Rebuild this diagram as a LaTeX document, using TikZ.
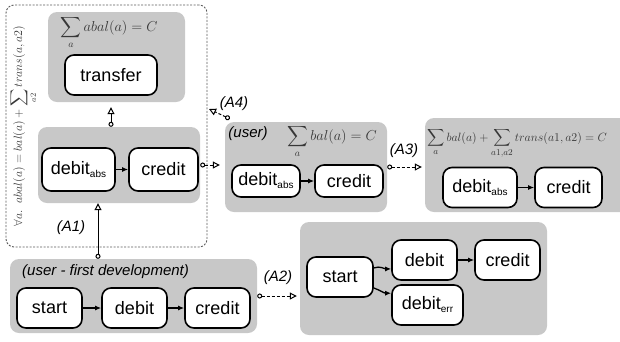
\documentclass[tikz,border=0pt]{standalone}
\usepackage{amsmath}
\usepackage{exscale}
\usepackage{fontspec}
\setmainfont{Liberation Sans}
\usetikzlibrary{arrows.meta,calc}
\definecolor{grpc}{RGB}{200,200,200}
\definecolor{mathc}{RGB}{55,55,55}
\definecolor{dashc}{RGB}{90,90,90}
\newcommand{\subsc}[1]{\raisebox{-3pt}{\fontsize{10}{10}\selectfont #1}}
\tikzset{
  grpbox/.style={fill=grpc, rounded corners=9pt, inner sep=0pt, draw=none},
  state/.style={draw=black, fill=white, line width=1.6pt, rounded corners=9pt, inner sep=0pt, font=\fontsize{18}{18}\selectfont},
  lbl/.style={font=\fontsize{15}{15}\selectfont\itshape, inner sep=0pt},
  frm/.style={text=mathc, inner sep=0pt, font=\fontsize{14}{14}\selectfont},
  frmwide/.style={text=mathc, inner sep=0pt, font=\fontsize{12.8}{12.8}\selectfont},
  frmsmall/.style={text=mathc, inner sep=0pt, font=\fontsize{12}{12}\selectfont},
  trans/.style={-{Latex[length=6pt,width=5pt]}, line width=1.3pt},
  refine/.style={{Circle[open,length=5pt,width=5pt]}-{Triangle[fill=white,length=7pt,width=7pt]}, line width=1pt},
  dsh/.style={dash pattern=on 3pt off 2pt},
}
\begin{document}
\begin{tikzpicture}[x=1pt,y=-1pt]
\useasboundingbox (0,0) rectangle (620,341);
\clip (0,0) rectangle (620,341);
% dashed invariant frame
\node[draw=dashc, line width=0.9pt, dash pattern=on 2pt off 1.5pt, rounded corners=8pt,
      minimum width=201pt, minimum height=242pt, inner sep=0pt] (D) at (106.5,126) {};
\node[frmsmall, rotate=90, anchor=base] (inv) at (22,126) {$\forall a.\ \ abal(a) = bal(a) + \displaystyle\sum_{a2} trans(a,a2)$};

% group boxes
\node[grpbox, minimum width=137pt, minimum height=90pt] (G1) at (116.5,57) {};
\node[grpbox, minimum width=162pt, minimum height=76pt] (G2) at (119,165) {};
\node[grpbox, minimum width=162pt, minimum height=90pt] (G3) at (306,167) {};
\node[grpbox, minimum width=215pt, minimum height=94pt] (G4) at (532.5,165) {};
\node[grpbox, minimum width=247pt, minimum height=74pt] (G5) at (133.5,296) {};
\node[grpbox, minimum width=247pt, minimum height=113pt] (G6) at (423.5,278.5) {};

% formulas
\node[frm, anchor=base] (f1) at (109,31) {$\displaystyle\sum_a abal(a) = C$};
\node[frm, anchor=base] (f2) at (332,140) {$\displaystyle\sum_a bal(a) = C$};
\node[frmwide, anchor=base west] (f3) at (427,141) {$\displaystyle\sum_a bal(a) + \sum_{a1,a2} trans(a1,a2) = C$};

% labels
\node[lbl] (l1) at (71,228) {(A1)};
\node[lbl] (l2) at (278,278) {(A2)};
\node[lbl] (l3) at (404,151) {(A3)};
\node[lbl] (l4) at (234,104) {(A4)};
\node[lbl] (lu) at (248,134) {(user)};
\node[lbl, anchor=west] (luf) at (22,272) {(user - first development)};

% states
\node[state, minimum width=92pt, minimum height=40pt] (tr) at (111,75) {transfer};
\node[state, minimum width=73pt, minimum height=43pt] (d1) at (78.5,169.5) {debit\subsc{abs}};
\node[state, minimum width=69pt, minimum height=43pt] (c1) at (163.5,169.5) {credit};
\node[state, minimum width=68pt, minimum height=32pt] (d2) at (266,181) {debit\subsc{abs}};
\node[state, minimum width=68pt, minimum height=32pt] (c2) at (349,181) {credit};
\node[state, minimum width=74pt, minimum height=40pt] (d3) at (480,187.5) {debit\subsc{abs}};
\node[state, minimum width=67pt, minimum height=40pt] (c3) at (568.5,187.5) {credit};
\node[state, minimum width=65pt, minimum height=40pt] (s0) at (49.5,308) {start};
\node[state, minimum width=65pt, minimum height=40pt] (b0) at (134.5,308) {debit};
\node[state, minimum width=65pt, minimum height=40pt] (k0) at (217.5,308) {credit};
\node[state, minimum width=66pt, minimum height=40pt] (s1) at (340,277) {start};
\node[state, minimum width=65pt, minimum height=40pt] (b1) at (424.5,260) {debit};
\node[state, minimum width=65pt, minimum height=40pt] (k1) at (507.5,260) {credit};
\node[state, minimum width=71pt, minimum height=40pt] (e1) at (427.5,305) {debit\subsc{err}};

% transitions
\draw[trans] (d1) -- (c1);
\draw[trans] (d2) -- (c2);
\draw[trans] (d3) -- (c3);
\draw[trans] (s0) -- (b0);
\draw[trans] (b0) -- (k0);
\draw[trans] (b1) -- (k1);
\draw[trans] (s1.15) to[out=20,in=180] (b1.-165);
\draw[trans] (s1.-18) to[out=-20,in=180] (e1.162);

% refinement arrows
\coordinate (a1x) at (98,0);
\coordinate (a4e) at (209,109);
\draw[refine, shorten >=5pt] (G2.north -| tr) -- (G1.south -| tr);
\draw[refine] (G5.north -| a1x) -- (G2.south -| a1x);
\draw[refine, dsh, shorten >=5pt] (G2.east) -- (G3.west |- G2.east);
\draw[refine, dsh, shorten >=3pt] (G5.east) -- (G6.west |- G5.east);
\draw[refine, dsh, shorten >=3pt] (G3.east) -- (G4.west |- G3.east);
\draw[refine, dsh] ($(G3.north west)+(5,-3)$) -- (a4e);
\end{tikzpicture}
\end{document}
